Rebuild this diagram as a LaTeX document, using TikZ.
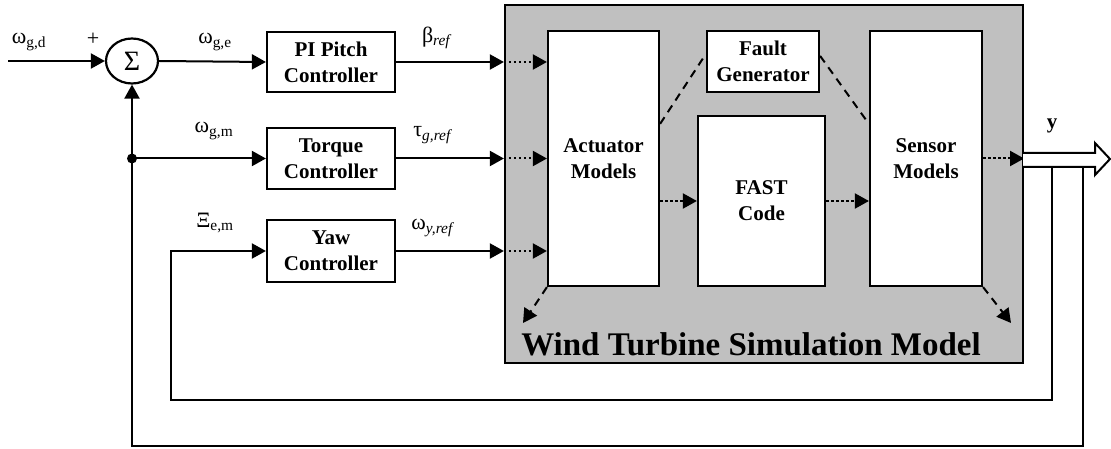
\documentclass[tikz,border=0pt]{standalone}
\usepackage{fontspec}
\setmainfont{Liberation Serif}
\usetikzlibrary{arrows.meta,shapes.geometric,calc}
\definecolor{bg}{RGB}{192,192,192}
\begin{document}
\begin{tikzpicture}[x=1pt,y=-1pt,line width=2pt,
  tip/.style={-{Triangle[length=14pt,width=15pt]}},
  blk/.style={draw,line width=2.2pt,fill=white,inner sep=0pt,align=center,
    font=\bfseries\fontsize{21}{26}\selectfont},
  lbl/.style={inner sep=0pt,font=\fontsize{22}{24}\selectfont},
  dots/.style={dash pattern=on 2.5pt off 2.5pt},
  dsh/.style={dash pattern=on 8pt off 6pt}]
\useasboundingbox (0,0) rectangle (1111,449);
% gray model box
\node[draw,line width=2.2pt,fill=bg,minimum width=518pt,minimum height=358pt] (gray) at (764,184) {};
% controllers
\node[blk,minimum width=128pt,minimum height=60pt] (pi) at (331,62) {PI Pitch\\Controller};
\node[blk,minimum width=128pt,minimum height=61pt] (torque) at (331,158.5) {Torque\\Controller};
\node[blk,minimum width=128pt,minimum height=62pt] (yaw) at (331,251) {Yaw\\Controller};
% inner blocks
\node[blk,minimum width=111pt,minimum height=255pt] (act) at (603.5,158.5) {Actuator\\Models};
\node[blk,minimum width=112pt,minimum height=61pt] (fault) at (763,61.5) {Fault\\Generator};
\node[blk,minimum width=127pt,minimum height=170pt] (fast) at (761.5,201) {FAST\\Code};
\node[blk,minimum width=112pt,minimum height=255pt] (sensor) at (926,158.5) {Sensor\\Models};
% sum
\node[ellipse,draw,line width=2.2pt,minimum width=52pt,minimum height=45pt,inner sep=0pt,
  font=\fontsize{28}{28}\selectfont] (sum) at (132,61) {Σ};
% title
\node[anchor=base,inner sep=0pt,font=\bfseries\fontsize{33}{36}\selectfont] (title) at (751,355) {Wind Turbine Simulation Model};
% input
\coordinate (in) at (8,61);
\draw[tip] (in) -- (sum.west);
\draw[tip] (sum.east) -- (pi.west);
% controller outputs
\foreach \c in {pi,torque,yaw}{
  \draw[tip] (\c.east) -- (\c.east -| gray.west);
  \draw[tip,dots] (\c.east -| gray.west) -- (\c.east -| act.west);
}
% inner dotted
\draw[tip,dots] (act.east |- fast.west) -- (fast.west);
\draw[tip,dots] (fast.east) -- (fast.east -| sensor.west);
\draw[tip,dots] (sensor.east) -- (sensor.east -| gray.east);
% dashed fault lines
\draw[dsh] ($(act.north east)+(0,94)$) -- ($(fault.north west)+(0,24)$);
\draw[dsh] ($(fault.north east)+(0,26)$) -- ($(sensor.north west)+(0,94)$);
\coordinate (actd) at (523,323);
\coordinate (send) at (1011,323);
\draw[tip,dsh] (act.south west) -- (actd);
\draw[tip,dsh] (sensor.south east) -- (send);
% hollow output arrow
\coordinate (yout) at (1110,159);
\draw[line width=2pt,fill=white,line join=miter] (1023,153) -- (1095,153) -- (1095,143) -- (yout) -- (1095,175) -- (1095,167) -- (1023,167);
\node[lbl,font=\bfseries\fontsize{21}{21}\selectfont] (ylbl) at (1052,126) {y};
% feedback loops
\coordinate (tapA) at (1052,167);
\coordinate (tapB) at (1083,167);
\coordinate (cornA) at (171,400);
\coordinate (cornB) at (132,446);
\draw[tip] (tapA) |- (cornA) |- (yaw.west);
\draw[tip] (tapB) |- (cornB) -- (sum.south);
\coordinate (junc) at (sum.south |- torque.west);
\fill (junc) circle (5pt);
\draw[tip] (junc) -- (torque.west);
% labels
\node[lbl] (lwgd) at (29,42) {ω\textsubscript{g,d}};
\node[lbl] (lplus) at (93,39) {+};
\node[lbl] (lwge) at (215,42) {ω\textsubscript{g,e}};
\node[lbl] (lwgm) at (214,131) {ω\textsubscript{g,m}};
\node[lbl] (lxi) at (215,223) {Ξ\textsubscript{e,m}};
\node[lbl] (lbeta) at (437,38) {β\textsubscript{\textit{ref}}};
\node[lbl] (ltau) at (433,135) {τ\textsubscript{\textit{g,ref}}};
\node[lbl] (lwy) at (433,228) {ω\textsubscript{\textit{y,ref}}};
\end{tikzpicture}
\end{document}
